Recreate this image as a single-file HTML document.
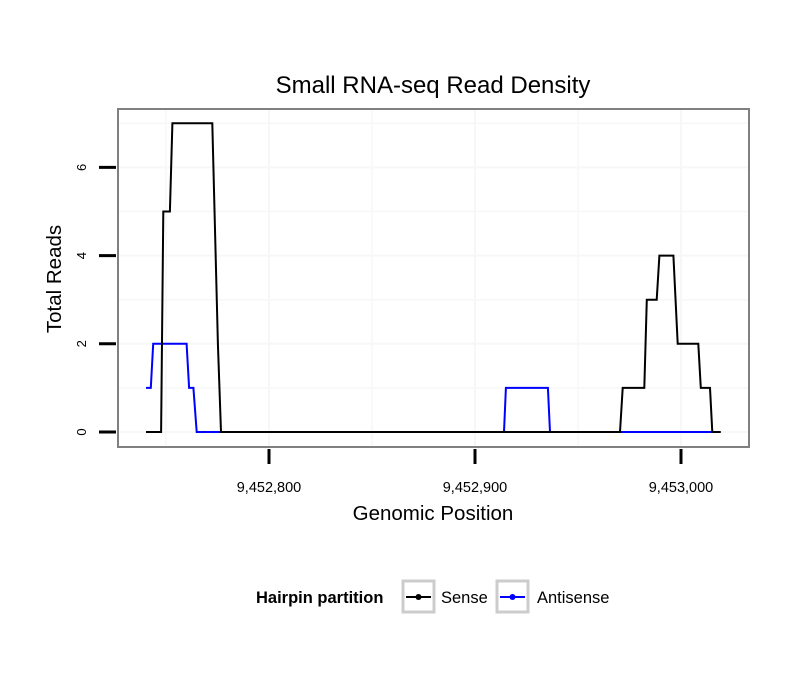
<!DOCTYPE html>
<html><head><meta charset="utf-8"><style>
body{margin:0;background:#fff;}
svg{display:block;font-family:"Liberation Sans",sans-serif;}
</style></head><body>
<svg width="810" height="690" viewBox="0 0 810 690">
<rect width="810" height="690" fill="#fff"/>
<text x="433" y="93" font-size="24" text-anchor="middle">Small RNA-seq Read Density</text>
<g id="grid"></g>
<g id="series"></g>
<rect x="118" y="109" width="631" height="338" fill="none" stroke="#808080" stroke-width="2"/>
<g id="axes"></g>
<text x="433" y="520" font-size="20.5" text-anchor="middle">Genomic Position</text>
<text x="0" y="0" font-size="20.5" text-anchor="middle" transform="translate(61,279) rotate(-90)">Total Reads</text>
<g>
<text x="256" y="603" font-size="16.5" font-weight="bold">Hairpin partition</text>
<g>
<rect x="403" y="581" width="31" height="31" fill="#fff" stroke="#ccc" stroke-width="3"/>
<line x1="406" y1="597" x2="431" y2="597" stroke="#000" stroke-width="2"/><circle cx="418.5" cy="597" r="3" fill="#000"/>
<text x="441" y="603" font-size="16.5">Sense</text></g>
<g>
<rect x="497" y="581" width="31" height="31" fill="#fff" stroke="#ccc" stroke-width="3"/>
<line x1="500" y1="597" x2="525" y2="597" stroke="#00f" stroke-width="2"/><circle cx="512.5" cy="597" r="3" fill="#00f"/>
<text x="537" y="603" font-size="16.5">Antisense</text></g>
</g>
</svg>
<script>
const senseX=[9452740.3,9452747.6,9452748.7,9452751.9,9452753.1,9452772.5,9452775.2,9452776.7,9452970.4,9452971.7,9452982.2,9452983.4,9452988.2,9452989.5,9452996.3,9452998.4,9453008.4,9453009.6,9453014.1,9453015.2,9453019.3];
const senseY=[0,0,5,5,7,7,2,0,0,1,1,3,3,4,4,2,2,1,1,0,0];
const antiX=[9452740.3,9452742.6,9452743.8,9452760.0,9452761.2,9452763.3,9452764.9,9452914.1,9452915.0,9452935.4,9452936.4,9453015.0];
const antiY=[1,1,2,2,1,1,0,0,1,1,0,0];
const xTicks=[9452800,9452900,9453000];
const xTickLabels=["9,452,800","9,452,900","9,453,000"];
const yTicks=[0,2,4,6];
const ns="http://www.w3.org/2000/svg";
const sx=v=>269+(v-9452800)*2.06;
const sy=v=>432-v*44.1;
function mk(tag,attrs,parent){const e=document.createElementNS(ns,tag);for(const k in attrs)e.setAttribute(k,attrs[k]);parent.appendChild(e);return e;}
const grid=document.getElementById('grid'),axes=document.getElementById('axes'),series=document.getElementById('series');
for(let g=0;g<=7;g++){const l=mk('line',{x1:118,x2:749,y1:sy(g),y2:sy(g),stroke:'#f7f7f7','stroke-width':g%2?1.5:2},grid);

}
for(let v=9452750;v<=9453000;v+=50){const l=mk('line',{x1:sx(v),x2:sx(v),y1:109,y2:447,stroke:'#f7f7f7','stroke-width':v%100?1.5:2},grid);

}
function path(xs,ys,col,name){const d=xs.map((x,i)=>(i?'L':'M')+sx(x).toFixed(1)+','+sy(ys[i]).toFixed(1)).join('');
const p=mk('path',{d:d,fill:'none',stroke:col,'stroke-width':2,'stroke-linejoin':'miter'},series);

}
path(antiX,antiY,'#0000ff','antisense-line');
path(senseX,senseY,'#000000','sense-line');
xTicks.forEach((v,i)=>{const t=mk('line',{x1:sx(v),x2:sx(v),y1:449,y2:464,stroke:'#000','stroke-width':3},axes);


const tx=mk('text',{x:sx(v),y:492,'font-size':14.5,'text-anchor':'middle'},axes);tx.textContent=xTickLabels[i];

});
yTicks.forEach(v=>{const t=mk('line',{x1:99,x2:116,y1:sy(v),y2:sy(v),stroke:'#000','stroke-width':3},axes);


const tx=mk('text',{x:0,y:0,'font-size':13,'text-anchor':'middle',transform:`translate(86,${sy(v)}) rotate(-90)`},axes);tx.textContent=v;

});
</script>
</body></html>
